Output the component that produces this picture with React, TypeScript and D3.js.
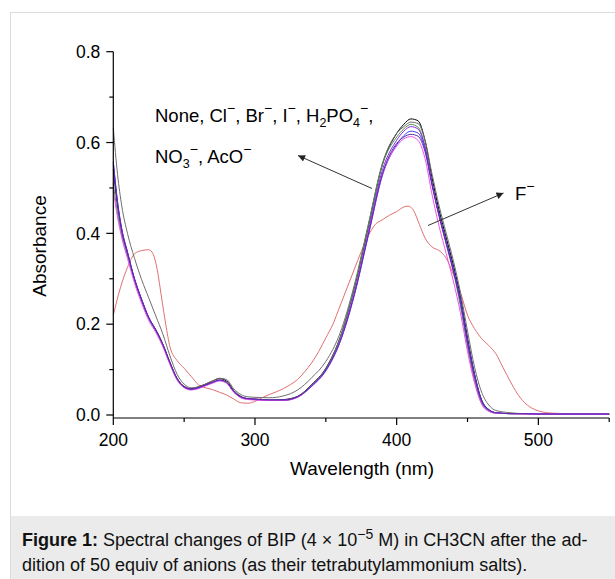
import React from "react";
import * as d3 from "d3";

// shared wavelength grid (nm) for the seven unchanged spectra
const wavelengths = [200, 203, 206, 210, 215, 220, 225, 230, 235, 240, 245, 250, 255, 260, 265, 270, 275, 280, 285, 290, 295, 300, 310, 320, 330, 340, 350, 360, 370, 380, 390, 400, 405, 410, 415, 420, 425, 430, 435, 440, 445, 450, 455, 460, 465, 470, 480, 490, 500, 520, 550];

const noneValues = [0.54, 0.46, 0.405, 0.355, 0.298, 0.253, 0.214, 0.188, 0.156, 0.116, 0.081, 0.063, 0.058, 0.062, 0.068, 0.075, 0.08, 0.075, 0.054, 0.041, 0.036, 0.035, 0.033, 0.034, 0.041, 0.067, 0.103, 0.17, 0.278, 0.415, 0.552, 0.62, 0.64, 0.652, 0.648, 0.605, 0.522, 0.45, 0.39, 0.33, 0.26, 0.17, 0.09, 0.033, 0.012, 0.005, 0.003, 0.003, 0.002, 0.002, 0.002];
const clValues = [0.632, 0.53, 0.46, 0.4, 0.345, 0.298, 0.258, 0.218, 0.178, 0.13, 0.09, 0.068, 0.06, 0.062, 0.068, 0.075, 0.081, 0.078, 0.058, 0.045, 0.04, 0.039, 0.038, 0.042, 0.055, 0.082, 0.118, 0.18, 0.285, 0.42, 0.555, 0.62, 0.635, 0.645, 0.642, 0.605, 0.53, 0.46, 0.4, 0.34, 0.27, 0.185, 0.105, 0.05, 0.022, 0.01, 0.005, 0.003, 0.003, 0.002, 0.002];
const brValues = [0.51, 0.445, 0.395, 0.35, 0.295, 0.25, 0.212, 0.185, 0.153, 0.113, 0.079, 0.061, 0.056, 0.059, 0.065, 0.071, 0.076, 0.071, 0.051, 0.039, 0.035, 0.034, 0.033, 0.033, 0.04, 0.066, 0.102, 0.17, 0.28, 0.418, 0.552, 0.612, 0.63, 0.64, 0.634, 0.592, 0.51, 0.438, 0.375, 0.315, 0.24, 0.15, 0.075, 0.025, 0.009, 0.004, 0.003, 0.002, 0.002, 0.002, 0.002];
const iValues = [0.555, 0.468, 0.408, 0.358, 0.299, 0.254, 0.214, 0.186, 0.154, 0.114, 0.079, 0.061, 0.056, 0.059, 0.065, 0.071, 0.076, 0.071, 0.051, 0.039, 0.035, 0.034, 0.032, 0.032, 0.039, 0.063, 0.097, 0.16, 0.262, 0.395, 0.528, 0.595, 0.615, 0.625, 0.621, 0.585, 0.508, 0.44, 0.382, 0.323, 0.255, 0.165, 0.088, 0.032, 0.012, 0.005, 0.003, 0.003, 0.002, 0.002, 0.002];
const h2po4Values = [0.558, 0.47, 0.41, 0.36, 0.3, 0.255, 0.215, 0.187, 0.155, 0.115, 0.08, 0.062, 0.057, 0.06, 0.066, 0.072, 0.077, 0.072, 0.052, 0.04, 0.036, 0.035, 0.033, 0.033, 0.04, 0.065, 0.1, 0.165, 0.27, 0.405, 0.54, 0.605, 0.625, 0.635, 0.63, 0.59, 0.51, 0.44, 0.38, 0.32, 0.25, 0.16, 0.085, 0.03, 0.011, 0.005, 0.003, 0.003, 0.002, 0.002, 0.002];
const no3Values = [0.495, 0.435, 0.39, 0.345, 0.29, 0.246, 0.208, 0.182, 0.15, 0.111, 0.077, 0.06, 0.055, 0.058, 0.064, 0.07, 0.075, 0.07, 0.05, 0.038, 0.034, 0.033, 0.032, 0.032, 0.039, 0.064, 0.099, 0.163, 0.268, 0.4, 0.53, 0.592, 0.608, 0.613, 0.605, 0.565, 0.485, 0.415, 0.355, 0.295, 0.225, 0.14, 0.07, 0.024, 0.008, 0.004, 0.003, 0.002, 0.002, 0.002, 0.002];
const acoValues = [0.55, 0.465, 0.406, 0.357, 0.299, 0.254, 0.215, 0.187, 0.155, 0.115, 0.08, 0.062, 0.057, 0.06, 0.066, 0.072, 0.077, 0.072, 0.052, 0.04, 0.036, 0.035, 0.033, 0.033, 0.04, 0.064, 0.099, 0.162, 0.265, 0.398, 0.532, 0.598, 0.612, 0.618, 0.614, 0.58, 0.505, 0.437, 0.378, 0.318, 0.25, 0.16, 0.084, 0.03, 0.011, 0.005, 0.003, 0.003, 0.002, 0.002, 0.002];

// fluoride spectrum has its own grid
const fWavelengths = [200, 205, 210, 215, 220, 225, 228, 231, 234, 237, 240, 245, 250, 255, 260, 265, 270, 275, 280, 285, 290, 295, 300, 305, 310, 315, 320, 325, 330, 335, 340, 345, 350, 355, 360, 365, 370, 375, 380, 385, 390, 395, 400, 405, 408, 412, 416, 420, 425, 430, 435, 440, 445, 450, 455, 460, 465, 470, 475, 480, 485, 490, 495, 500, 510, 520, 550];
const fValues = [0.22, 0.28, 0.325, 0.355, 0.362, 0.364, 0.355, 0.32, 0.26, 0.2, 0.15, 0.12, 0.103, 0.085, 0.067, 0.06, 0.056, 0.05, 0.044, 0.035, 0.027, 0.026, 0.03, 0.038, 0.045, 0.051, 0.058, 0.067, 0.078, 0.095, 0.115, 0.14, 0.17, 0.2, 0.24, 0.28, 0.32, 0.36, 0.395, 0.42, 0.43, 0.44, 0.448, 0.458, 0.46, 0.45, 0.42, 0.39, 0.37, 0.362, 0.345, 0.31, 0.27, 0.22, 0.19, 0.168, 0.153, 0.135, 0.105, 0.075, 0.048, 0.028, 0.016, 0.009, 0.004, 0.003, 0.002];

const seriesNames = ["None", "Cl", "Br", "I", "H2PO4", "NO3", "AcO"];
const seriesColors = ["#000000", "#6e6e6e", "#4f8f4f", "#3a3aff", "#8a2be2", "#f050f0", "#5a2aa8"];
const seriesValues = [noneValues, clValues, brValues, iValues, h2po4Values, no3Values, acoValues];

const xMajor = [200, 300, 400, 500];
const xMinor = [250, 350, 450, 550];
const yMajor = [0, 0.2, 0.4, 0.6, 0.8];
const yMinor = [0.1, 0.3, 0.5, 0.7];

const FONT = "'Liberation Sans', Arial, sans-serif";

// raised minus for the ion labels
const Sup = () => (
  <tspan dy={-9} fontSize={14}>−</tspan>
);

export default function App() {
  const x = d3.scaleLinear().domain([200, 550]).range([113.3, 609.2]);
  const y = d3.scaleLinear().domain([-0.0066, 0.8]).range([418, 51.7]);

  const line = d3
    .line<[number, number]>()
    .x((d) => x(d[0]))
    .y((d) => y(d[1]))
    .curve(d3.curveMonotoneX);

  const fmt = d3.format(".1f");
  const x0 = x.range()[0];
  const yBottom = y.range()[0];

  return (
    <svg
      width={615}
      height={579}
      style={{ position: "absolute", left: 0, top: 0, background: "#fff" }}
      fontFamily={FONT}
    >
      <defs>
        <marker id="ah" viewBox="0 0 10 10" refX="10" refY="5" markerWidth="9" markerHeight="7" orient="auto" markerUnits="userSpaceOnUse">
          <path d="M0,0 L10,5 L0,10 z" fill="#222" />
        </marker>
      </defs>

      {/* page frame + caption band */}
      <rect x={10.5} y={12.5} width={620} height={580} fill="#fff" stroke="#dcdcdc" />
      <rect x={11} y={516} width={610} height={70} fill="#ebebeb" />

      {/* spectra */}
      <g fill="none" strokeWidth={1}>
        <path d={line(fWavelengths.map((w, i) => [w, fValues[i]]) as [number, number][]) ?? ""} stroke="#e07070" />
        {seriesValues.map((vals, k) => (
          <path
            key={seriesNames[k]}
            d={line(wavelengths.map((w, i) => [w, vals[i]]) as [number, number][]) ?? ""}
            stroke={seriesColors[k]}
          />
        ))}
      </g>

      {/* axes */}
      <g stroke="#000" strokeWidth={1.2}>
        <line x1={x0} x2={x0} y1={y(0.8)} y2={yBottom} />
        <line x1={x0} x2={x(550)} y1={yBottom} y2={yBottom} />
        {yMajor.map((v) => (
          <line key={"ym" + v} x1={x0 - 7} x2={x0} y1={y(v)} y2={y(v)} />
        ))}
        {yMinor.map((v) => (
          <line key={"yn" + v} x1={x0 - 4} x2={x0} y1={y(v)} y2={y(v)} />
        ))}
        {xMajor.map((v) => (
          <line key={"xm" + v} x1={x(v)} x2={x(v)} y1={yBottom} y2={yBottom + 7} />
        ))}
        {xMinor.map((v) => (
          <line key={"xn" + v} x1={x(v)} x2={x(v)} y1={yBottom} y2={yBottom + 4} />
        ))}
      </g>
      <g fontSize={17.5} fill="#000">
        {yMajor.map((v) => (
          <text key={"yt" + v} x={x0 - 13} y={y(v)} dy="0.36em" textAnchor="end">
            {fmt(v)}
          </text>
        ))}
        {xMajor.map((v) => (
          <text key={"xt" + v} x={x(v)} y={446} textAnchor="middle">
            {v}
          </text>
        ))}
      </g>
      <text x={362} y={475} fontSize={19} textAnchor="middle">Wavelength (nm)</text>
      <text transform="translate(46,246) rotate(-90)" fontSize={19} textAnchor="middle">Absorbance</text>

      {/* annotations */}
      <g fontSize={18.5} fill="#000">
        <text x={155} y={122}>
          None, Cl<Sup /><tspan dy={9}>, Br</tspan><Sup />
          <tspan dy={9}>, I</tspan><Sup /><tspan dy={9}>, H</tspan>
          <tspan dy={5} fontSize={12.5}>2</tspan><tspan dy={-5}>PO</tspan>
          <tspan dy={5} fontSize={12.5}>4</tspan><tspan dy={-14} fontSize={14}>−</tspan><tspan dy={9}>,</tspan>
        </text>
        <text x={155} y={163}>
          NO<tspan dy={5} fontSize={12.5}>3</tspan><tspan dy={-14} fontSize={14}>−</tspan>
          <tspan dy={9}>, AcO</tspan><Sup />
        </text>
        <text x={515} y={200}>
          F<Sup />
        </text>
      </g>
      <g stroke="#333" strokeWidth={1}>
        <line x1={372} y1={188.5} x2={298} y2={155.5} markerEnd="url(#ah)" />
        <line x1={428} y1={225.5} x2={503.5} y2={193} markerEnd="url(#ah)" />
      </g>

      {/* caption */}
      <g fontSize={18} fill="#111">
        <text x={22} y={546}>
          <tspan fontWeight="bold">Figure 1:</tspan> Spectral changes of BIP (4 × 10
          <tspan dy={-7} fontSize={14}>−5</tspan>
          <tspan dy={7}> M) in CH3CN after the ad-</tspan>
        </text>
        <text x={22} y={571}>dition of 50 equiv of anions (as their tetrabutylammonium salts).</text>
      </g>
    </svg>
  );
}
